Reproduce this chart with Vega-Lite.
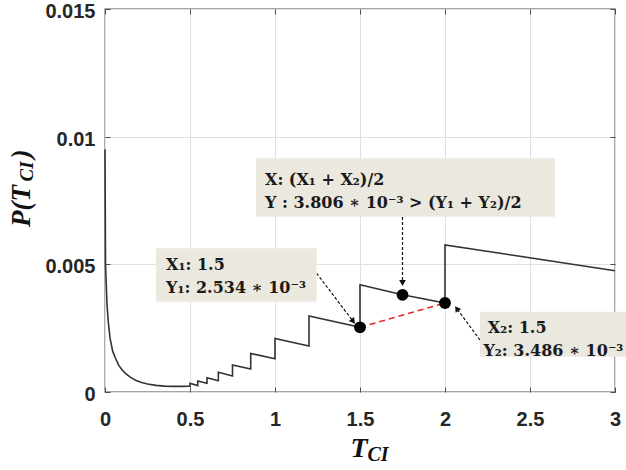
{
  "$schema": "https://vega.github.io/schema/vega-lite/v6.json",
  "width": 510,
  "height": 383,
  "autosize": {"type": "none"},
  "padding": {"left": 105, "top": 9, "right": 11, "bottom": 78},
  "background": "white",
  "config": {
    "view": {"stroke": "#4d4d4d", "strokeWidth": 1.3},
    "font": "Liberation Sans"
  },
  "datasets": {
    "curve": [
      {"i": 0, "x": 0, "y": 0.0095},
      {"i": 1, "x": 0.003, "y": 0.005},
      {"i": 2, "x": 0.007, "y": 0.0043},
      {"i": 3, "x": 0.012, "y": 0.0034},
      {"i": 4, "x": 0.02, "y": 0.0027},
      {"i": 5, "x": 0.03, "y": 0.0021},
      {"i": 6, "x": 0.045, "y": 0.0016},
      {"i": 7, "x": 0.06, "y": 0.00135},
      {"i": 8, "x": 0.08, "y": 0.00105},
      {"i": 9, "x": 0.1, "y": 0.00087},
      {"i": 10, "x": 0.12, "y": 0.00073},
      {"i": 11, "x": 0.15, "y": 0.00057},
      {"i": 12, "x": 0.18, "y": 0.00046},
      {"i": 13, "x": 0.21, "y": 0.00038},
      {"i": 14, "x": 0.25, "y": 0.00031},
      {"i": 15, "x": 0.3, "y": 0.00026},
      {"i": 16, "x": 0.35, "y": 0.00023},
      {"i": 17, "x": 0.4, "y": 0.00022},
      {"i": 18, "x": 0.45, "y": 0.00022},
      {"i": 19, "x": 0.5, "y": 0.00023},
      {"i": 20, "x": 0.5, "y": 0.00034},
      {"i": 21, "x": 0.5455, "y": 0.00025},
      {"i": 22, "x": 0.5455, "y": 0.00043},
      {"i": 23, "x": 0.6, "y": 0.00034},
      {"i": 24, "x": 0.6, "y": 0.00056},
      {"i": 25, "x": 0.6667, "y": 0.00044},
      {"i": 26, "x": 0.6667, "y": 0.00077},
      {"i": 27, "x": 0.75, "y": 0.00063},
      {"i": 28, "x": 0.75, "y": 0.00106},
      {"i": 29, "x": 0.8571, "y": 0.0009},
      {"i": 30, "x": 0.8571, "y": 0.00151},
      {"i": 31, "x": 1.0, "y": 0.0013},
      {"i": 32, "x": 1.0, "y": 0.0021},
      {"i": 33, "x": 1.2, "y": 0.0018},
      {"i": 34, "x": 1.2, "y": 0.00298},
      {"i": 35, "x": 1.5, "y": 0.002534},
      {"i": 36, "x": 1.5, "y": 0.0042},
      {"i": 37, "x": 1.75, "y": 0.00381},
      {"i": 38, "x": 2.0, "y": 0.003486},
      {"i": 39, "x": 2.0, "y": 0.00576},
      {"i": 40, "x": 3.0, "y": 0.00475}
    ],
    "red": [{"x": 1.5, "y": 0.002534, "x2": 2.0, "y2": 0.003486}],
    "pts": [
      {"x": 1.5, "y": 0.002534},
      {"x": 1.75, "y": 0.003806},
      {"x": 2.0, "y": 0.003486}
    ],
    "arrows": [
      {"x": 1.245, "y": 0.004649, "x2": 1.4565, "y2": 0.002796},
      {"x": 1.75, "y": 0.006854, "x2": 1.75, "y2": 0.004308},
      {"x": 2.206, "y": 0.002037, "x2": 2.0724, "y2": 0.003239}
    ],
    "heads": [
      {"id": 1, "x": 1.4565, "y": 0.002796},
      {"id": 2, "x": 1.75, "y": 0.004308},
      {"id": 3, "x": 2.0724, "y": 0.003239}
    ],
    "boxes": [
      {"x": 0.3, "x2": 1.245, "y": 0.005628, "y2": 0.003537},
      {"x": 0.888, "x2": 2.647, "y": 0.009153, "y2": 0.006866},
      {"x": 2.206, "x2": 3.07, "y": 0.003145, "y2": 0.001383}
    ],
    "notes": [
      {"t": "X₁: 1.5", "x": 0.359, "y": 0.004974},
      {"t": "Y₁: 2.534 ∗ 10⁻³", "x": 0.359, "y": 0.004073},
      {"t": "X: (X₁ + X₂)/2", "x": 0.941, "y": 0.008303},
      {"t": "Y : 3.806 ∗ 10⁻³ > (Y₁ + Y₂)/2", "x": 0.941, "y": 0.007402},
      {"t": "X₂: 1.5", "x": 2.252, "y": 0.002507},
      {"t": "Y₂: 3.486 ∗ 10⁻³", "x": 2.226, "y": 0.001606}
    ],
    "xtitle": [{"t": "T", "x": 1.494, "y": -0.00223}],
    "xtitlesub": [{"t": "CI", "x": 1.606, "y": -0.00247}],
    "ytitle": [
      {"t": "P(T", "x": -0.488, "y": 0.007285},
      {"t": ")", "x": -0.488, "y": 0.009321}
    ],
    "ytitlesub": [{"t": "CI", "x": -0.459, "y": 0.008636}]
  },
  "resolve": {"axis": {"x": "independent", "y": "independent"}},
  "layer": [
    {
      "data": {"name": "curve"},
      "mark": {"type": "line", "color": "#333333", "strokeWidth": 1.6},
      "encoding": {
        "x": {
          "field": "x", "type": "quantitative",
          "scale": {"domain": [0, 3], "nice": false},
          "axis": {
            "orient": "bottom", "values": [0, 0.5, 1, 1.5, 2, 2.5, 3], "format": ".1~f",
            "title": null, "grid": true, "gridColor": "#e0e0e0", "gridWidth": 1,
            "domain": false, "tickSize": -5, "tickColor": "#4d4d4d",
            "labelFont": "Liberation Sans", "labelFontWeight": "bold", "labelFontSize": 20,
            "labelColor": "#262626", "labelPadding": 22, "labelFlush": false, "labelOverlap": false
          }
        },
        "y": {
          "field": "y", "type": "quantitative",
          "scale": {"domain": [0, 0.015], "nice": false},
          "axis": {
            "orient": "left", "values": [0, 0.005, 0.01, 0.015], "format": ".3~f",
            "title": null, "grid": true, "gridColor": "#e0e0e0", "gridWidth": 1,
            "domain": false, "tickSize": -5, "tickColor": "#4d4d4d",
            "labelFont": "Liberation Sans", "labelFontWeight": "bold", "labelFontSize": 20,
            "labelColor": "#262626", "labelPadding": 15, "labelOffset": 2.5, "labelFlush": false, "labelOverlap": false
          }
        },
        "order": {"field": "i", "type": "quantitative"}
      }
    },
    {
      "data": {"name": "red"},
      "mark": {"type": "rule", "color": "#e8262a", "strokeWidth": 1.6, "strokeDash": [6, 4]},
      "encoding": {
        "x": {"field": "x", "type": "quantitative", "axis": null},
        "y": {"field": "y", "type": "quantitative", "axis": null},
        "x2": {"field": "x2"},
        "y2": {"field": "y2"}
      }
    },
    {
      "data": {"name": "arrows"},
      "mark": {"type": "rule", "color": "#111111", "strokeWidth": 1.2, "strokeDash": [3, 2]},
      "encoding": {
        "x": {"field": "x", "type": "quantitative", "axis": null},
        "y": {"field": "y", "type": "quantitative", "axis": null},
        "x2": {"field": "x2"},
        "y2": {"field": "y2"}
      }
    },
    {
      "data": {"name": "heads"},
      "transform": [{"filter": "datum.id == 1"}],
      "mark": {"type": "point", "shape": "triangle", "filled": true, "color": "#111111", "opacity": 1, "size": 45, "angle": 143},
      "encoding": {
        "x": {"field": "x", "type": "quantitative", "axis": null},
        "y": {"field": "y", "type": "quantitative", "axis": null}
      }
    },
    {
      "data": {"name": "heads"},
      "transform": [{"filter": "datum.id == 2"}],
      "mark": {"type": "point", "shape": "triangle", "filled": true, "color": "#111111", "opacity": 1, "size": 45, "angle": 180},
      "encoding": {
        "x": {"field": "x", "type": "quantitative", "axis": null},
        "y": {"field": "y", "type": "quantitative", "axis": null}
      }
    },
    {
      "data": {"name": "heads"},
      "transform": [{"filter": "datum.id == 3"}],
      "mark": {"type": "point", "shape": "triangle", "filled": true, "color": "#111111", "opacity": 1, "size": 45, "angle": 324.5},
      "encoding": {
        "x": {"field": "x", "type": "quantitative", "axis": null},
        "y": {"field": "y", "type": "quantitative", "axis": null}
      }
    },
    {
      "data": {"name": "pts"},
      "mark": {"type": "circle", "color": "#000000", "opacity": 1, "size": 140},
      "encoding": {
        "x": {"field": "x", "type": "quantitative", "axis": null},
        "y": {"field": "y", "type": "quantitative", "axis": null}
      }
    },
    {
      "data": {"name": "boxes"},
      "mark": {"type": "rect", "color": "#ebe9df"},
      "encoding": {
        "x": {
          "field": "x", "type": "quantitative",
          "axis": {"orient": "top", "values": [0, 0.5, 1, 1.5, 2, 2.5, 3], "labels": false, "title": null, "grid": false, "domain": false, "tickSize": -5, "tickColor": "#4d4d4d"}
        },
        "x2": {"field": "x2"},
        "y": {
          "field": "y", "type": "quantitative",
          "axis": {"orient": "right", "values": [0, 0.005, 0.01, 0.015], "labels": false, "title": null, "grid": false, "domain": false, "tickSize": -5, "tickColor": "#4d4d4d"}
        },
        "y2": {"field": "y2"}
      }
    },
    {
      "data": {"name": "notes"},
      "mark": {"type": "text", "align": "left", "baseline": "middle", "font": "DejaVu Serif", "fontWeight": "bold", "fontSize": 16, "color": "#1a1a1a"},
      "encoding": {
        "x": {"field": "x", "type": "quantitative", "axis": null},
        "y": {"field": "y", "type": "quantitative", "axis": null},
        "text": {"field": "t"}
      }
    },
    {
      "data": {"name": "xtitle"},
      "mark": {"type": "text", "align": "center", "baseline": "middle", "font": "Liberation Serif", "fontWeight": "bold", "fontStyle": "italic", "fontSize": 28, "color": "#111111"},
      "encoding": {
        "x": {"field": "x", "type": "quantitative", "axis": null},
        "y": {"field": "y", "type": "quantitative", "axis": null},
        "text": {"field": "t"}
      }
    },
    {
      "data": {"name": "xtitlesub"},
      "mark": {"type": "text", "align": "center", "baseline": "middle", "font": "Liberation Serif", "fontWeight": "bold", "fontStyle": "italic", "fontSize": 20, "color": "#111111"},
      "encoding": {
        "x": {"field": "x", "type": "quantitative", "axis": null},
        "y": {"field": "y", "type": "quantitative", "axis": null},
        "text": {"field": "t"}
      }
    },
    {
      "data": {"name": "ytitle"},
      "mark": {"type": "text", "align": "center", "baseline": "middle", "angle": 270, "font": "Liberation Serif", "fontWeight": "bold", "fontStyle": "italic", "fontSize": 27, "color": "#111111"},
      "encoding": {
        "x": {"field": "x", "type": "quantitative", "axis": null},
        "y": {"field": "y", "type": "quantitative", "axis": null},
        "text": {"field": "t"}
      }
    },
    {
      "data": {"name": "ytitlesub"},
      "mark": {"type": "text", "align": "center", "baseline": "middle", "angle": 270, "font": "Liberation Serif", "fontWeight": "bold", "fontStyle": "italic", "fontSize": 19, "color": "#111111"},
      "encoding": {
        "x": {"field": "x", "type": "quantitative", "axis": null},
        "y": {"field": "y", "type": "quantitative", "axis": null},
        "text": {"field": "t"}
      }
    }
  ]
}
